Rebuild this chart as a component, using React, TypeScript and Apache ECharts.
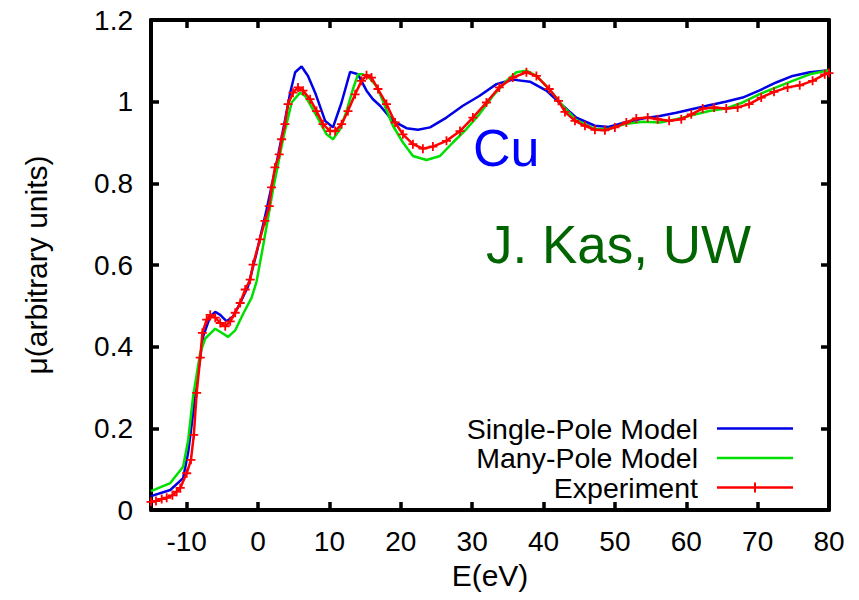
import React, { useEffect, useRef } from "react";
import * as echarts from "echarts";

// ---- data ----
const singlePoleE = [-15, -12.3, -10.5, -9.8, -9.1, -8.4, -7.7, -6.7, -6.0, -5.3, -4.4, -3.5, -2.5, -1.4, -0.2, 1.2, 2.6, 3.8, 4.5, 5.2, 6.1, 7.0, 8.0, 9.4, 10.5, 11.7, 12.9, 14.0, 15.2, 16.1, 17.1, 18.9, 20.8, 22.4, 24.1, 26.4, 28.7, 31.0, 33.4, 35.7, 38.1, 40.4, 42.7, 44.6, 47.2, 49.1, 51.4, 53.9, 56.3, 58.6, 60.9, 63.2, 65.5, 67.9, 70.2, 72.6, 74.9, 77.3, 80];
const singlePoleMu = [0.034, 0.049, 0.078, 0.14, 0.237, 0.336, 0.425, 0.474, 0.485, 0.478, 0.462, 0.474, 0.507, 0.548, 0.63, 0.736, 0.85, 0.957, 1.022, 1.072, 1.086, 1.063, 1.022, 0.953, 0.937, 0.998, 1.073, 1.067, 1.027, 1.006, 0.99, 0.953, 0.935, 0.931, 0.937, 0.961, 0.99, 1.014, 1.043, 1.054, 1.049, 1.027, 0.99, 0.961, 0.941, 0.938, 0.949, 0.959, 0.965, 0.973, 0.982, 0.991, 1.0, 1.01, 1.027, 1.047, 1.063, 1.072, 1.077];

const manyPoleE = [-15, -12.3, -10.5, -9.8, -9.1, -8.1, -7.4, -6.0, -5.1, -4.2, -3.2, -2.1, -0.9, -0.2, 0.7, 2.1, 3.5, 4.7, 5.9, 6.6, 8.2, 9.6, 10.5, 11.5, 12.4, 13.3, 14.0, 14.7, 15.5, 16.5, 17.1, 18.9, 20.3, 21.7, 23.6, 25.5, 27.3, 29.2, 31.0, 32.9, 34.8, 36.2, 37.6, 39.0, 40.8, 42.7, 44.6, 47.2, 49.1, 51.4, 53.9, 56.3, 58.6, 60.9, 63.2, 65.5, 67.9, 70.2, 72.6, 74.9, 77.3, 80];
const manyPoleMu = [0.046, 0.066, 0.106, 0.17, 0.278, 0.385, 0.42, 0.444, 0.434, 0.424, 0.44, 0.48, 0.52, 0.56, 0.646, 0.785, 0.908, 0.998, 1.022, 1.014, 0.965, 0.92, 0.908, 0.933, 0.977, 1.031, 1.067, 1.067, 1.06, 1.04, 1.018, 0.941, 0.9, 0.867, 0.857, 0.867, 0.9, 0.933, 0.969, 1.014, 1.051, 1.072, 1.076, 1.063, 1.031, 0.99, 0.955, 0.933, 0.933, 0.945, 0.951, 0.949, 0.957, 0.967, 0.977, 0.983, 0.998, 1.018, 1.035, 1.051, 1.067, 1.077];

const experimentE = [-15, -14.3, -13.5, -12.8, -12.0, -11.4, -10.9, -10.0, -9.4, -9.0, -8.6, -8.1, -7.8, -7.2, -6.7, -6.0, -5.3, -4.6, -3.9, -3.2, -2.5, -1.8, -1.1, -0.7, 0.27, 0.97, 1.57, 1.9, 2.37, 2.97, 3.3, 3.77, 4.2, 4.9, 5.6, 6.3, 7.3, 8.2, 9.1, 10.1, 10.8, 11.7, 12.6, 13.6, 14.5, 15.2, 15.9, 16.8, 18.0, 19.2, 20.3, 21.7, 23.1, 24.5, 26.4, 28.3, 30.1, 32.0, 33.8, 35.7, 37.6, 39.0, 40.8, 42.1, 43.0, 44.4, 45.8, 47.2, 48.6, 50.0, 51.6, 53.0, 54.6, 56.0, 57.6, 59.3, 60.7, 62.3, 63.9, 65.6, 67.2, 68.8, 70.5, 72.3, 74.2, 75.9, 77.7, 79.4, 80];
const experimentMu = [0.02, 0.022, 0.027, 0.03, 0.036, 0.045, 0.054, 0.09, 0.123, 0.184, 0.287, 0.373, 0.434, 0.466, 0.478, 0.471, 0.458, 0.45, 0.462, 0.483, 0.507, 0.54, 0.564, 0.601, 0.663, 0.708, 0.744, 0.79, 0.839, 0.871, 0.908, 0.945, 0.994, 1.022, 1.035, 1.027, 1.006, 0.977, 0.945, 0.928, 0.928, 0.945, 0.977, 1.018, 1.051, 1.065, 1.059, 1.031, 0.994, 0.949, 0.92, 0.896, 0.885, 0.89, 0.904, 0.928, 0.961, 0.998, 1.035, 1.059, 1.072, 1.063, 1.031, 1.002, 0.975, 0.953, 0.941, 0.931, 0.93, 0.937, 0.949, 0.959, 0.961, 0.957, 0.953, 0.957, 0.969, 0.983, 0.986, 0.983, 0.986, 0.994, 1.01, 1.024, 1.035, 1.04, 1.051, 1.067, 1.07];

const seriesNames = ["Single-Pole Model", "Many-Pole Model", "Experiment"];
const xRange = [-15, 80];
const yRange = [0, 1.2];
const yStep = 0.2;
const xLabel = "E(eV)";
const yLabel = "μ(arbitrary units)";
const annotation1 = "Cu";
const annotation2 = "J. Kas, UW";

// ---- styles ----
const colors = ["#0000e6", "#00e000", "#ff0000"];
const FONT = "'Liberation Sans', Arial, Helvetica, sans-serif";
const crossPath = "path://M4,0H6V10H4Z M0,4H10V6H0Z";

const zip = (xs: number[], ys: number[]) => xs.map((x, i) => [x, ys[i]]);

export default function App() {
  const ref = useRef<HTMLDivElement>(null);
  useEffect(() => {
    document.body.style.margin = "0";
    if (!ref.current) return;
    const chart = echarts.init(ref.current, null, { renderer: "svg" });
    const axisLine = { show: true, onZero: false, lineStyle: { color: "#000", width: 4 } };
    const axisTick = { show: true, inside: true, length: 8, lineStyle: { color: "#000", width: 3.5 } };
    const tickStyle = { color: "#000", fontSize: 28, fontFamily: FONT };
    const nameStyle = { color: "#000", fontSize: 30, fontFamily: FONT };
    const xCommon = {
      type: "value",
      min: xRange[0],
      max: xRange[1],
      splitNumber: 10,
      minInterval: 10,
      maxInterval: 10,
      axisLine,
      axisTick,
      splitLine: { show: false },
    };
    const yCommon = {
      type: "value",
      min: yRange[0],
      max: yRange[1],
      interval: yStep,
      axisLine,
      axisTick,
      splitLine: { show: false },
    };
    const legendTop = [428.5, 458, 487.5];
    const legendGraphics: any[] = [];
    seriesNames.forEach((n, i) => {
      legendGraphics.push({
        type: "text",
        x: 698,
        y: legendTop[i],
        style: { text: n, fill: "#000", fontSize: 28.5, lineHeight: 26, fontFamily: FONT, align: "right", verticalAlign: "middle" },
      });
      legendGraphics.push({
        type: "line",
        shape: { x1: 717, y1: legendTop[i], x2: 793, y2: legendTop[i] },
        style: { stroke: colors[i], lineWidth: 2.5 },
      });
    });
    legendGraphics.push({
      type: "line",
      shape: { x1: 755, y1: legendTop[2] - 5, x2: 755, y2: legendTop[2] + 5 },
      style: { stroke: colors[2], lineWidth: 2 },
    });
    chart.setOption({
      animation: false,
      backgroundColor: "#fff",
      grid: { left: 151, right: 30, top: 20, bottom: 90, containLabel: false },
      xAxis: [
        {
          ...xCommon,
          position: "bottom",
          axisLabel: { ...tickStyle, margin: 17, showMinLabel: false },
          name: xLabel,
          nameLocation: "middle",
          nameGap: 50,
          nameTextStyle: { ...nameStyle },
        },
        { ...xCommon, position: "top", axisLabel: { show: false } },
      ],
      yAxis: [
        {
          ...yCommon,
          position: "left",
          axisLabel: { ...tickStyle, margin: 18 },
          name: yLabel,
          nameLocation: "middle",
          nameGap: 100,
          nameTextStyle: { ...nameStyle },
        },
        { ...yCommon, position: "right", axisLabel: { show: false } },
      ],
      series: [
        {
          name: seriesNames[0],
          type: "line",
          data: zip(singlePoleE, singlePoleMu),
          symbol: "none",
          lineStyle: { color: colors[0], width: 2.5 },
          itemStyle: { color: colors[0] },
        },
        {
          name: seriesNames[1],
          type: "line",
          data: zip(manyPoleE, manyPoleMu),
          symbol: "none",
          lineStyle: { color: colors[1], width: 2.5 },
          itemStyle: { color: colors[1] },
        },
        {
          name: seriesNames[2],
          type: "line",
          data: zip(experimentE, experimentMu),
          symbol: crossPath,
          symbolSize: 9,
          showAllSymbol: true,
          lineStyle: { color: colors[2], width: 2.5 },
          itemStyle: { color: colors[2] },
        },
      ],
      graphic: [
        ...legendGraphics,
        {
          type: "text",
          x: 473,
          y: 148,
          style: { text: annotation1, fill: "#0000ff", fontSize: 52, fontFamily: FONT, align: "left", verticalAlign: "middle" },
        },
        {
          type: "text",
          x: 486,
          y: 244,
          style: { text: annotation2, fill: "#006400", fontSize: 53, fontFamily: FONT, align: "left", verticalAlign: "middle" },
        },
      ],
    });
    return () => chart.dispose();
  }, []);
  return <div ref={ref} style={{ position: "fixed", left: 0, top: 0, width: 859, height: 600 }} />;
}
